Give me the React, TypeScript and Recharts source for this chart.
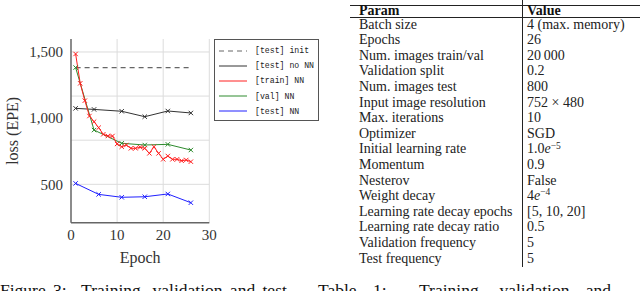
import React from "react"
import { LineChart, Line, XAxis, YAxis, CartesianGrid, Legend, Label } from "recharts"

// ---- data ----
const epochs = [1, 2, 3, 4, 5, 6, 7, 8, 9, 10, 11, 12, 13, 14, 15, 16, 17, 18, 19, 20, 21, 22, 23, 24, 25, 26]
const trainLoss = [1485, 1263, 1132, 1016, 973, 928, 878, 865, 865, 805, 784, 797, 772, 772, 780, 772, 734, 784, 734, 689, 714, 689, 689, 678, 684, 671]
const valEpochs = [1, 5, 11, 16, 21, 26]
const valLoss = [1382, 910, 810, 797, 802, 759]
const testEpochs = [1, 6, 11, 16, 21, 26]
const testLoss = [507, 424, 402, 406, 427, 361]
const noNnEpochs = [1, 5, 11, 16, 21, 26]
const noNnLoss = [1074, 1066, 1052, 1011, 1054, 1039]
const initEpochs = [1, 26]
const initLoss = 1382

const xTicks = [0, 10, 20, 30]
const yTicks = [500, 1000, 1500]
const xGrid = [10 / 3, 20 / 3, 10, 40 / 3, 50 / 3, 20, 70 / 3, 80 / 3, 30]
const yGrid = [1000 / 3, 500, 2000 / 3, 2500 / 3, 1000, 3500 / 3, 4000 / 3, 1500]
const legendOrder = ["[test] init", "[test] no NN", "[train] NN", "[val] NN", "[test] NN"]

const tableParams = [
  "Batch size", "Epochs", "Num. images train/val", "Validation split", "Num. images test",
  "Input image resolution", "Max. iterations", "Optimizer", "Initial learning rate", "Momentum",
  "Nesterov", "Weight decay", "Learning rate decay epochs", "Learning rate decay ratio",
  "Validation frequency", "Test frequency",
]
const supStyle: React.CSSProperties = { fontSize: "0.68em", position: "relative", top: "-0.5em", lineHeight: 0 }
const tableValues: React.ReactNode[] = [
  "4 (max. memory)", "26", "20\u2009000", "0.2", "800", "752 × 480", "10", "SGD",
  <span>1.0<i>e</i><span style={supStyle}>−5</span></span>,
  "0.9", "False",
  <span>4<i>e</i><span style={supStyle}>−4</span></span>,
  "[5, 10, 20]", "0.5", "5", "5",
]

const pick = (xs: number[], ys: number[], e: number) => {
  const i = xs.indexOf(e)
  return i < 0 ? null : ys[i]
}

const data = epochs.map((e, i) => ({
  epoch: e,
  train: trainLoss[i],
  val: pick(valEpochs, valLoss, e),
  test: pick(testEpochs, testLoss, e),
  noNN: pick(noNnEpochs, noNnLoss, e),
  init: initEpochs.includes(e) ? initLoss : null,
}))

const Cross = (color: string) => (p: any) => {
  const { cx, cy, index } = p
  if (cx == null || cy == null || p.value == null) return <g key={index} />
  const s = 2.2
  return (
    <path
      key={index}
      d={`M${cx - s},${cy - s}L${cx + s},${cy + s}M${cx - s},${cy + s}L${cx + s},${cy - s}`}
      stroke={color}
      strokeWidth={1}
      fill="none"
    />
  )
}

const serif = "'Liberation Serif', serif"
const mono = "'Liberation Mono', monospace"

function LegendBox({ payload }: any) {
  return (
    <div style={{ border: "1px solid #555", width: 105, height: 82, boxSizing: "border-box", paddingTop: 3 }}>
      {(payload || []).map((p: any) => (
        <div key={p.value} style={{ display: "flex", alignItems: "center", height: 15.2 }}>
          <svg width={36} height={6} style={{ marginLeft: 4 }}>
            <line x1={0} y1={3} x2={28} y2={3} stroke={p.color} strokeWidth={1}
              strokeDasharray={p.payload?.strokeDasharray} />
          </svg>
          <span style={{ fontFamily: mono, fontSize: 8.2, color: "#222", whiteSpace: "nowrap" }}>{p.value}</span>
        </div>
      ))}
    </div>
  )
}

const cell: React.CSSProperties = {
  position: "absolute", fontFamily: serif, fontSize: 14, lineHeight: "12px", color: "#222", whiteSpace: "nowrap",
}
const caption: React.CSSProperties = {
  position: "absolute", top: 279, fontFamily: serif, fontSize: 17.5, lineHeight: "22px", color: "#111", whiteSpace: "nowrap",
}

export default function App() {
  return (
    <div style={{ position: "absolute", left: 0, top: 0, width: 640, height: 291, background: "#fff", overflow: "hidden" }}>
      <LineChart width={320} height={291} data={data} margin={{ top: 39, right: 110.7, left: 11, bottom: 38.3 }}>
        <CartesianGrid stroke="#dcdcdc" strokeWidth={1} horizontalValues={yGrid} verticalValues={xGrid} />
        <XAxis
          dataKey="epoch"
          type="number"
          domain={[0, 30]}
          ticks={xTicks}
          height={30}
          tickLine={false}
          tickMargin={1}
          stroke="#666"
          strokeWidth={1.5}
          tick={{ fontSize: 15, fontFamily: serif, fill: "#333" }}
        >
          <Label
            content={({ viewBox }: any) => (
              <text x={viewBox.x + viewBox.width / 2} y={viewBox.y + 40} textAnchor="middle"
                fontFamily={serif} fontSize={16} fill="#333">Epoch</text>
            )}
          />
        </XAxis>
        <YAxis
          type="number"
          domain={[210, 1598]}
          ticks={yTicks}
          width={60}
          tickLine={false}
          tickMargin={2}
          stroke="#666"
          strokeWidth={1.5}
          tickFormatter={(v: number) => v.toLocaleString("en-US")}
          tick={{ fontSize: 15, fontFamily: serif, fill: "#333" }}
        >
          <Label
            content={({ viewBox }: any) => {
              const x = viewBox.x + 2
              const y = viewBox.y + viewBox.height / 2
              return (
                <text x={x} y={y} transform={`rotate(-90, ${x}, ${y})`} textAnchor="middle"
                  dominantBaseline="central" fontFamily={serif} fontSize={16} fill="#333">loss (EPE)</text>
              )
            }}
          />
        </YAxis>
        <Legend
          verticalAlign="middle"
          align="center"
          layout="vertical"
          itemSorter={(item: any) => legendOrder.indexOf(item.value)}
          wrapperStyle={{ position: "absolute", left: 214, top: 39, width: 105, height: 82 }}
          content={<LegendBox />}
        />
        <Line dataKey="init" name="[test] init" stroke="#666" strokeWidth={1.2} strokeDasharray="5 4"
          dot={false} connectNulls isAnimationActive={false} />
        <Line dataKey="noNN" name="[test] no NN" stroke="#333" strokeWidth={1} dot={Cross("#333")}
          connectNulls isAnimationActive={false} />
        <Line dataKey="val" name="[val] NN" stroke="#2e8b2e" strokeWidth={1} dot={Cross("#2e8b2e")}
          connectNulls isAnimationActive={false} />
        <Line dataKey="train" name="[train] NN" stroke="#ff2020" strokeWidth={1} dot={Cross("#ff2020")}
          connectNulls isAnimationActive={false} />
        <Line dataKey="test" name="[test] NN" stroke="#2020ff" strokeWidth={1} dot={Cross("#2020ff")}
          connectNulls isAnimationActive={false} />
      </LineChart>

      {/* table */}
      <div style={{ position: "absolute", left: 350, top: 4.5, width: 290, height: 1, background: "#222" }} />
      <div style={{ position: "absolute", left: 350, top: 17.3, width: 290, height: 0.8, background: "#222" }} />
      <div style={{ position: "absolute", left: 522, top: 0, width: 1, height: 267, background: "#222" }} />
      <div style={{ ...cell, left: 359, top: 5, fontWeight: "bold", color: "#111" }}>Param</div>
      <div style={{ ...cell, left: 527, top: 5, fontWeight: "bold", color: "#111" }}>Value</div>
      {tableParams.map((p, i) => (
        <React.Fragment key={p}>
          <div style={{ ...cell, left: 359, top: 18.5 + 15.6 * i }}>{p}</div>
          <div style={{ ...cell, left: 527, top: 18.5 + 15.6 * i }}>{tableValues[i]}</div>
        </React.Fragment>
      ))}

      {/* captions, cut off by the frame */}
      <div style={{ ...caption, left: 0, wordSpacing: 3 }}>Figure 3:&nbsp; Training, validation and test</div>
      <div style={{ ...caption, left: 318, wordSpacing: 12 }}>Table 1:&nbsp; Training, validation and</div>
    </div>
  )
}
